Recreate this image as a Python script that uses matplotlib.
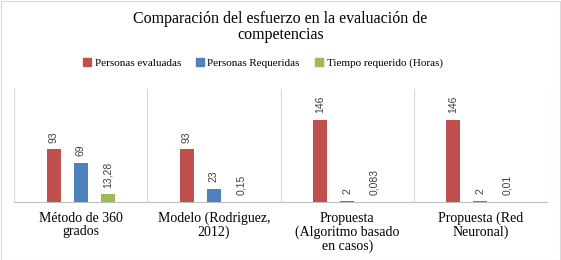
import matplotlib
matplotlib.use("Agg")
import matplotlib.pyplot as plt
import numpy as np
from matplotlib.patches import Rectangle

categories = ["Método de 360\ngrados", "Modelo (Rodriguez,\n2012)",
              "Propuesta\n(Algoritmo basado\nen casos)", "Propuesta (Red\nNeuronal)"]
series_names = ["Personas evaluadas", "Personas Requeridas", "Tiempo requerido (Horas)"]
personas_evaluadas = [93, 93, 146, 146]
personas_requeridas = [69, 23, 2, 2]
tiempo_requerido = [13.28, 0.15, 0.083, 0.01]
labels_eval = ["93", "93", "146", "146"]
labels_req = ["69", "23", "2", "2"]
labels_tiempo = ["13,28", "0,15", "0,083", "0,01"]
colors = ["#C0504D", "#4F81BD", "#9BBB59"]

fig = plt.figure(figsize=(5.61, 2.60), dpi=100)
W, H = 561, 260
ax = fig.add_axes([14/W, 1 - 202/H, (547-14)/W, (202-89)/H])

x = np.arange(len(categories))
width = 0.105
offset = 0.203
serif = "Liberation Serif"
sans = "Liberation Sans"

all_series = [personas_evaluadas, personas_requeridas, tiempo_requerido]
all_labels = [labels_eval, labels_req, labels_tiempo]
for i, (vals, labs) in enumerate(zip(all_series, all_labels)):
    pos = x + (i - 1) * offset
    ax.bar(pos, vals, width=width, color=colors[i], label=series_names[i], zorder=3)
    for p, v, l in zip(pos, vals, labs):
        ax.annotate(l, (p, v), xytext=(0, 5), textcoords="offset points",
                    rotation=90, ha="center", va="bottom", fontsize=7.5,
                    family=sans, color="#404040")

ax.set_xlim(-0.5, len(categories) - 0.5)
ax.set_ylim(0, 200)
ax.set_yticks([])
ax.set_xticks(x)
ax.set_xticklabels(categories, family=serif, fontsize=10, linespacing=1.05)
ax.tick_params(axis="x", length=0, pad=7, colors="#000000")
for s in ["top", "right", "left"]:
    ax.spines[s].set_visible(False)
ax.spines["bottom"].set_color("#BFBFBF")
ax.spines["bottom"].set_linewidth(0.8)
for b in np.arange(-0.5, len(categories), 1.0):
    ax.axvline(b, color="#D9D9D9", linewidth=0.8, zorder=1)

fig.text(0.5, 1 - 27/H, "Comparación del esfuerzo en la evaluación de\ncompetencias",
         ha="center", va="center", family=serif, fontsize=11.5, linespacing=1.0)

handles = [Rectangle((0, 0), 1, 1, color=c) for c in colors]
fig.legend(handles, series_names, loc="center", bbox_to_anchor=(263/W, 1 - 63/H),
           ncol=3, frameon=False, prop={"family": serif, "size": 8},
           handlelength=0.7, handleheight=0.7, handletextpad=0.3, columnspacing=1.4)

fig.add_artist(Rectangle((0.5/W, 0.5/H), (W-1.5)/W, (H-1.5)/H, transform=fig.transFigure,
                         fill=False, edgecolor="#D9D9D9", linewidth=0.8))

fig.savefig("out.png", dpi=100)
